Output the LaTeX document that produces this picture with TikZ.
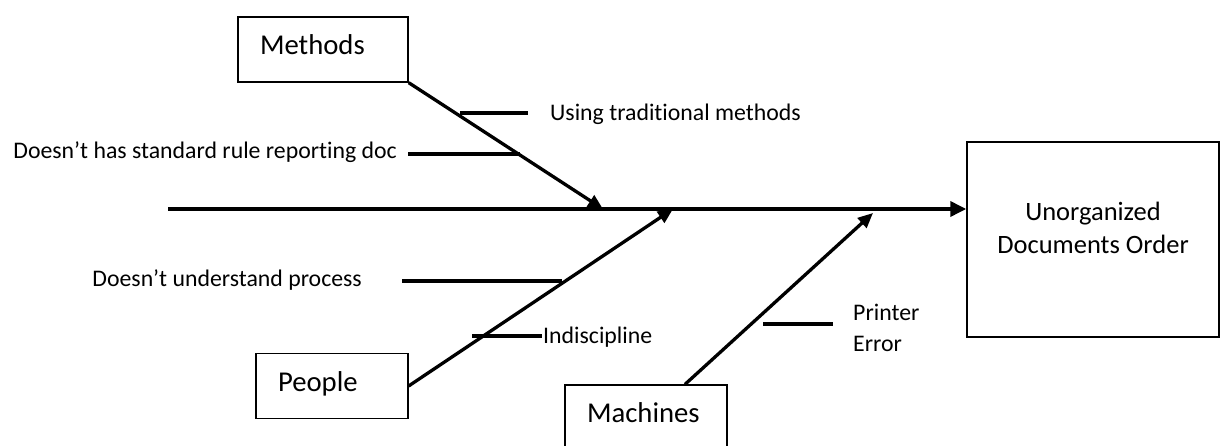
\documentclass[tikz,border=0pt]{standalone}
\usepackage{fontspec}
\setmainfont{Carlito}[Ligatures={TeX,NoCommon}]
\usetikzlibrary{arrows.meta,positioning}

\begin{document}
\begin{tikzpicture}[
  x=1pt,y=-1pt,
  cat/.style={draw=black,line width=1.3pt,inner xsep=22pt,inner ysep=0pt,align=left,
              minimum height=65pt,text depth=9pt,font=\fontsize{28.7}{34}\selectfont},
  effbox/.style={draw=black,line width=1.5pt,align=center,minimum width=252pt,
                 minimum height=195pt,text depth=24pt,font=\fontsize{26.5}{33}\selectfont},
  cause/.style={inner sep=0pt,font=\fontsize{23.8}{31}\selectfont},
  spine/.style={line width=3.6pt,-{Triangle[length=16pt,width=15pt]}},
  bone/.style={line width=3.3pt,-{Triangle[length=15pt,width=13pt]}},
  tick/.style={line width=3.4pt}]

\useasboundingbox (0,0) rectangle (1222,446);
\clip (0,0) rectangle (1222,446);

% ================= effect + spine =================
\node[effbox] (eff) at (1093,239.5) {Unorganized\\Documents Order};
\coordinate (tail) at (168,209);
\draw[spine] (tail) -- (tail -| eff.west);

% ================= category boxes =================
\node[cat,text width=126pt] (mth) at (323,49.5) {Methods};
\node[cat,text width=108pt] (ppl) at (332,386) {People};
\node[cat,text width=118pt] (mch) at (646,417.5) {Machines};

% bones onto the spine
\coordinate (hm) at (603,209);
\coordinate (hp) at (673,209);
\coordinate (hk) at (873,213);
\coordinate (mk) at ([xshift=39pt]mch.north);
\draw[bone] (mth.south east) -- (hm);
\draw[bone] (ppl.east) -- (hp);
\draw[bone] (mk) -- (hk);

% ================= Methods causes =================
\coordinate (m1a) at (460,113); \coordinate (m1b) at (528,113);
\draw[tick] (m1a) -- (m1b);
\node[cause,anchor=base west] (m1) at (550,121) {Using traditional methods};
\coordinate (m2a) at (408,154); \coordinate (m2b) at (520,154);
\draw[tick] (m2a) -- (m2b);
\node[cause,anchor=base east] (m2) at (397,159) {Doesn’t has standard rule reporting doc};

% ================= People causes =================
\coordinate (p1a) at (402,281); \coordinate (p1b) at (562,281);
\draw[tick] (p1a) -- (p1b);
\node[cause,anchor=base east] (p1) at (362,286) {Doesn’t understand process};
\coordinate (p2a) at (472,336); \coordinate (p2b) at (542,336);
\draw[tick] (p2a) -- (p2b);
\node[cause,anchor=base west] (p2) at (543,343) {Indiscipline};

% ================= Machines causes =================
\coordinate (k1a) at (763,324); \coordinate (k1b) at (833,324);
\draw[tick] (k1a) -- (k1b);
\node[cause,align=left,anchor=north west] (k1) at (853,304) {Printer\\Error};
\end{tikzpicture}
\end{document}
